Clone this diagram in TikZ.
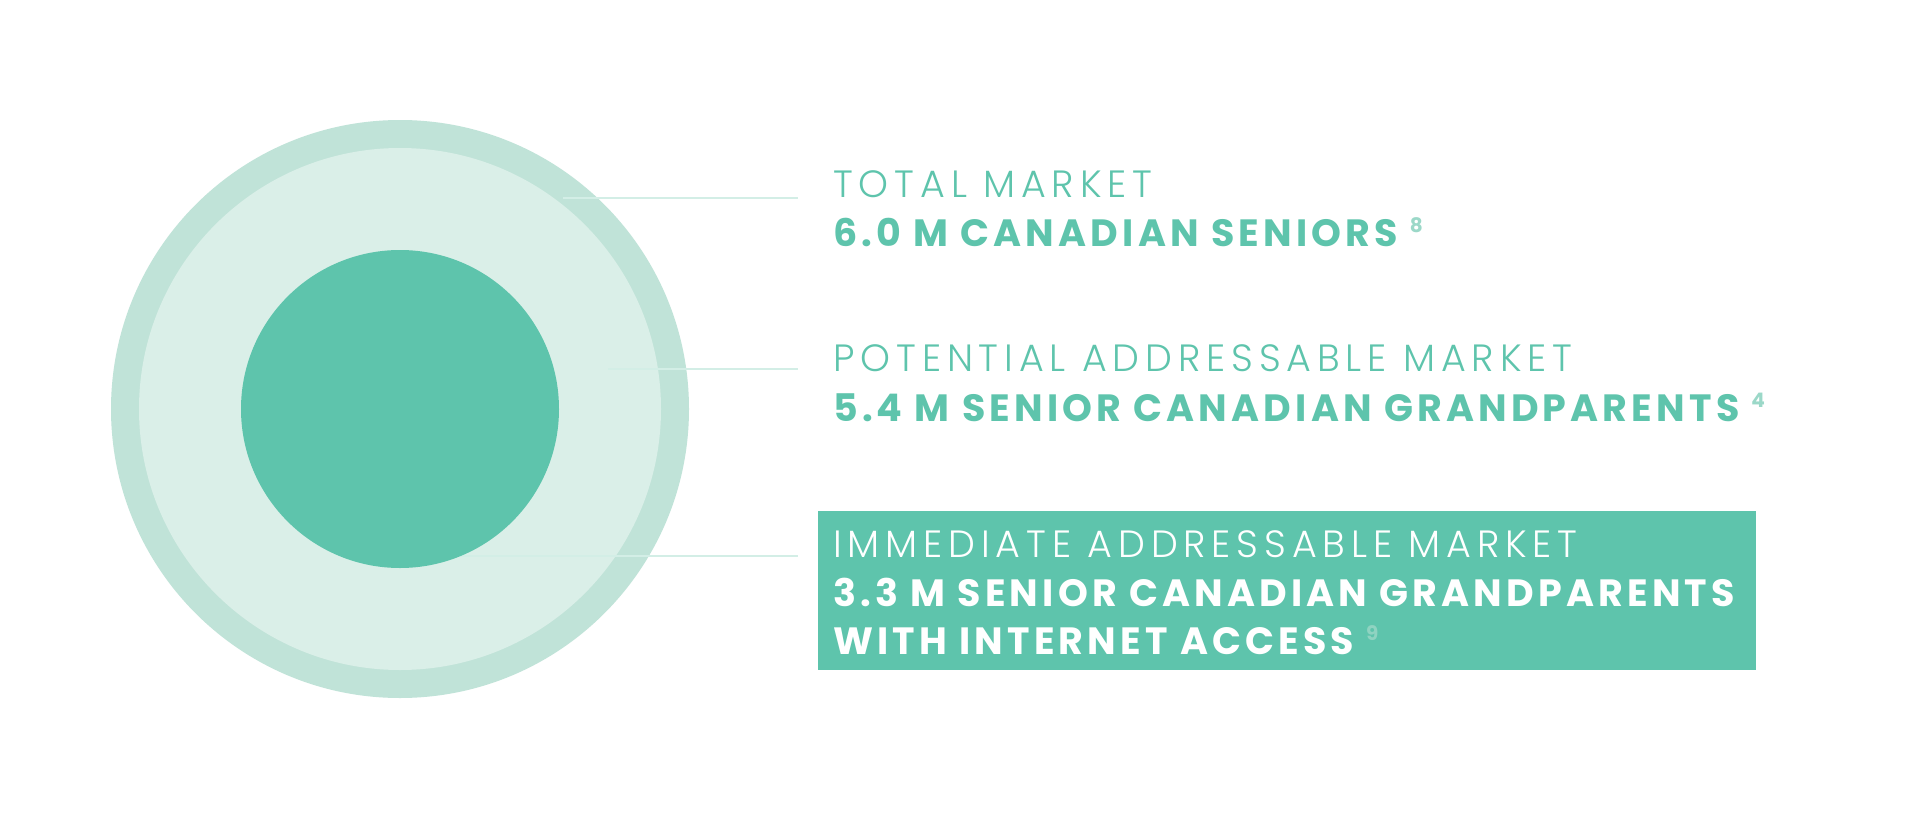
\documentclass[tikz,border=0pt]{standalone}
\usepackage{fontspec}
\setmainfont{Poppins}
\newfontfamily\lightf{Poppins Light}[LetterSpace=15.5]
\newfontfamily\heavyf{Poppins Bold}[LetterSpace=11]
\newfontfamily\supf{Poppins Bold}
\definecolor{mteal}{HTML}{5EC4AC}
\definecolor{ringc}{HTML}{C0E3D8}
\definecolor{midc}{HTML}{DAEFE8}
\definecolor{linec}{HTML}{D3EEE6}
\definecolor{supc}{HTML}{9BD8C8}
\definecolor{supb}{HTML}{8FD3C1}
\tikzset{
  disc/.style={circle, inner sep=0pt, draw=none},
  lead/.style={draw=linec, line width=1.6pt},
  head/.style={anchor=base west, inner sep=0pt, font=\lightf\fontsize{38}{38}\selectfont},
  big/.style={anchor=base west, inner sep=0pt, font=\heavyf\fontsize{38}{38}\selectfont},
}
\newcommand{\supnum}[2]{\hspace{12pt}\raisebox{14pt}{\supf\fontsize{20}{20}\selectfont\color{#1}#2}}
\begin{document}
\begin{tikzpicture}[x=1pt,y=-1pt]
\useasboundingbox (0,0) rectangle (1920,819);
\fill[white] (0,0) rectangle (1920,819);
\node[disc, fill=ringc, minimum size=578pt] (outer) at (400,409) {};
\node[disc, fill=midc, minimum size=522pt] (middle) at (400,409) {};
\coordinate (l1s) at (563,198);
\coordinate (l1e) at (798,198);
\coordinate (l2s) at (608,369);
\coordinate (l2e) at (798,369);
\coordinate (l3s) at (455,556);
\coordinate (l3e) at (798,556);
\draw[lead] (l1s) -- (l1e);
\draw[lead] (l2s) -- (l2e);
\draw[lead] (l3s) -- (l3e);
\node[disc, fill=mteal, minimum size=318pt] (inner) at (400,409) {};
\node[fill=mteal, anchor=north west, minimum width=938pt, minimum height=159pt, inner sep=0pt] (box) at (818,511) {};
\node[head, text=mteal] (h1) at (833,197) {TOTAL MARKET};
\node[big, text=mteal] (b1) at (833,246) {6.0 M CANADIAN SENIORS\supnum{supc}{8}};
\node[head, text=mteal] (h2) at (833,371) {POTENTIAL ADDRESSABLE MARKET};
\node[big, text=mteal] (b2) at (833,421) {5.4 M SENIOR CANADIAN GRANDPARENTS\supnum{supc}{4}};
\node[head, text=white] (h3) at (833,557) {IMMEDIATE ADDRESSABLE MARKET};
\node[big, text=white] (b3) at (833,606) {3.3 M SENIOR CANADIAN GRANDPARENTS};
\node[big, text=white] (b4) at (833,654) {WITH INTERNET ACCESS\supnum{supb}{9}};
\end{tikzpicture}
\end{document}
